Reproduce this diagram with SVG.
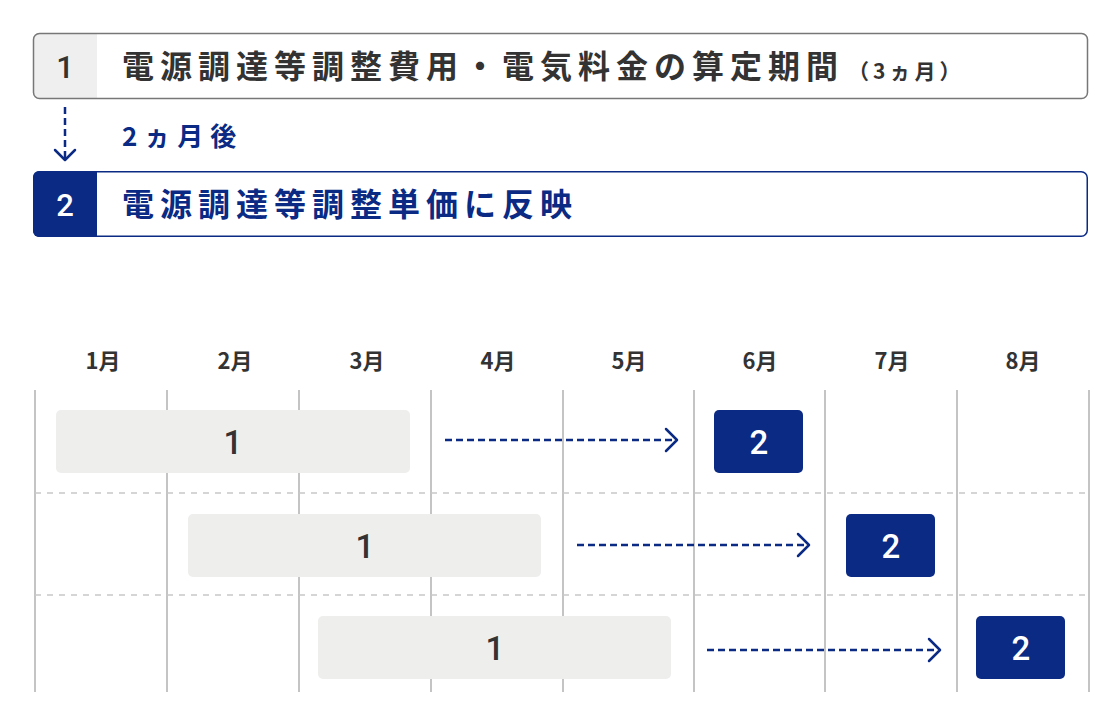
<svg xmlns="http://www.w3.org/2000/svg" width="1120" height="726" viewBox="0 0 1120 726">
<style>
text{font-family:"Noto Sans CJK JP","Noto Sans",sans-serif;font-weight:700}
.dg{font-family:Roboto,"Noto Sans",sans-serif;font-weight:500}
.dk{fill:#333}
.nv{fill:#0a2a84}
.wh{fill:#fff}
.vline{stroke:#c4c4c4;stroke-width:2}
.hline{stroke:#c8c8c8;stroke-width:1.5;stroke-dasharray:6 6}
.gbar{fill:#eeeeed}
.nbox{fill:#0a2a84}
.darr{stroke:#0a2a84;stroke-width:2.5;stroke-dasharray:7 4;fill:none}
.head{stroke:#0a2a84;stroke-width:2.5;fill:none;stroke-linecap:round;stroke-linejoin:round}
.mon{font-size:22px;text-anchor:middle;fill:#333}
.num{font-size:33px;text-anchor:middle}
</style>
<defs>
<clipPath id="c1"><rect x="33" y="33" width="1055" height="66" rx="6"/></clipPath>
<clipPath id="c2"><rect x="33" y="171" width="1055" height="66" rx="6"/></clipPath>
</defs>
<g id="box1">
<rect x="33" y="33" width="1055" height="66" rx="6" fill="#fff"/>
<rect x="33" y="33" width="64" height="66" fill="#efefef" clip-path="url(#c1)"/>
<rect x="33.5" y="33.5" width="1054" height="65" rx="6" fill="none" stroke="#777" stroke-width="1.5"/>
<text x="65" y="78" class="dk dg" font-size="31" text-anchor="middle">1</text>
<text x="122" y="78" class="dk" font-size="32" letter-spacing="6">電源調達等調整費用・電気料金の算定期間</text>
<text x="848" y="79" class="dk" font-size="21" letter-spacing="4">（3ヵ月）</text>
</g>
<g id="box2">
<rect x="33" y="171" width="1055" height="66" rx="6" fill="#fff"/>
<rect x="33" y="171" width="64" height="66" fill="#0a2a84" clip-path="url(#c2)"/>
<rect x="33.75" y="171.75" width="1053.5" height="64.5" rx="6" fill="none" stroke="#0a2a84" stroke-width="1.5"/>
<text x="65" y="216" class="wh dg" font-size="31" text-anchor="middle" font-weight="700">2</text>
<text x="122" y="216" class="nv" font-size="32" letter-spacing="6">電源調達等調整単価に反映</text>
</g>
<g id="lag">
<text x="122" y="146" class="nv" font-size="26" letter-spacing="7">2ヵ月後</text>
</g>
<g id="grid">
<line class="vline" x1="35" y1="390" x2="35" y2="692"/>
<line class="vline" x1="167" y1="390" x2="167" y2="692"/>
<line class="vline" x1="299" y1="390" x2="299" y2="692"/>
<line class="vline" x1="431" y1="390" x2="431" y2="692"/>
<line class="vline" x1="563" y1="390" x2="563" y2="692"/>
<line class="vline" x1="694" y1="390" x2="694" y2="692"/>
<line class="vline" x1="825" y1="390" x2="825" y2="692"/>
<line class="vline" x1="957" y1="390" x2="957" y2="692"/>
<line class="vline" x1="1089" y1="390" x2="1089" y2="692"/>
<line class="hline" x1="35" y1="493" x2="1089" y2="493"/>
<line class="hline" x1="35" y1="595" x2="1089" y2="595"/>
</g>
<g id="months">
<text class="mon" x="103" y="369">1月</text>
<text class="mon" x="235" y="369">2月</text>
<text class="mon" x="367" y="369">3月</text>
<text class="mon" x="498" y="369">4月</text>
<text class="mon" x="629" y="369">5月</text>
<text class="mon" x="760" y="369">6月</text>
<text class="mon" x="892" y="369">7月</text>
<text class="mon" x="1023" y="369">8月</text>
</g>
<g id="row1-period">
<rect class="gbar" x="56" y="410" width="354" height="63" rx="5"/>
<text class="num dk dg" x="233" y="454">1</text>
</g>
<g id="row1-apply">
<rect class="nbox" x="714" y="410" width="89" height="63" rx="5"/>
<text class="num wh dg" x="759" y="454">2</text>
</g>
<g id="row2-period">
<rect class="gbar" x="188" y="514" width="353" height="63" rx="5"/>
<text class="num dk dg" x="365" y="558">1</text>
</g>
<g id="row2-apply">
<rect class="nbox" x="846" y="514" width="89" height="63" rx="5"/>
<text class="num wh dg" x="891" y="558">2</text>
</g>
<g id="row3-period">
<rect class="gbar" x="318" y="616" width="353" height="63" rx="5"/>
<text class="num dk dg" x="495" y="660">1</text>
</g>
<g id="row3-apply">
<rect class="nbox" x="976" y="616" width="89" height="63" rx="5"/>
<text class="num wh dg" x="1021" y="660">2</text>
</g>
<g id="connectors">
<line class="darr" x1="65" y1="107" x2="65" y2="158" stroke-width="2" stroke-dasharray="6 4"/>
<path class="head" d="M55 150 L65 160 L75 150" stroke-width="2"/>
<line class="darr" x1="445" y1="440" x2="674" y2="440"/>
<path class="head" d="M666 429 L677 440 L666 451"/>
<line class="darr" x1="577" y1="545" x2="806" y2="545"/>
<path class="head" d="M798 534 L809 545 L798 556"/>
<line class="darr" x1="707" y1="650" x2="937" y2="650"/>
<path class="head" d="M929 639 L940 650 L929 661"/>
</g>
</svg>
